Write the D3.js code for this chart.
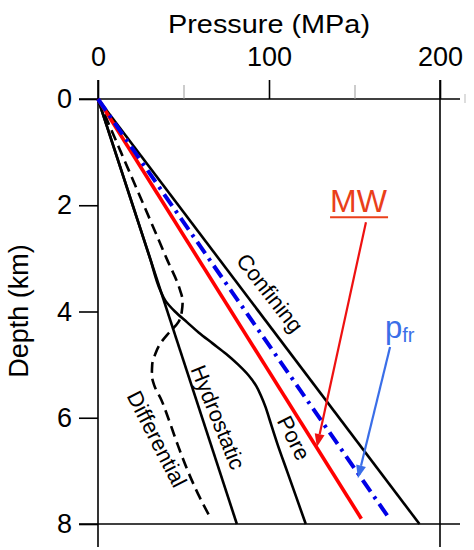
<!DOCTYPE html>
<html>
<head>
<meta charset="utf-8">
<script src="https://cdn.jsdelivr.net/npm/d3@7/dist/d3.min.js"></script>
<style>
  html, body { margin: 0; padding: 0; background: #fff; }
  svg { display: block; }
  text { font-family: "Liberation Sans", Arial, Helvetica, sans-serif; }
</style>
</head>
<body>
<svg id="chart" width="474" height="550"></svg>
<script>
// ---- data (pressure in MPa, depth in km) ----
const pressureTicks = [0, 100, 200];
const pressureMinorTicks = [50, 150];
const depthTicks = [0, 2, 4, 6, 8];

const confiningDepth = [0, 8];
const confiningP     = [0, 188];

const hydroDepth = [0, 8];
const hydroP     = [0, 81.2];

const mwDepth = [0, 7.9];
const mwP     = [0, 154];

const pfrDepth = [0, 7.88];
const pfrP     = [0, 170];

const poreDepth = [0, 1, 2, 3, 3.6, 3.8, 4.0, 4.2, 4.4, 4.6, 4.8, 5.0, 5.2, 5.4, 5.6, 5.8, 6.0, 6.5, 7.0, 7.5, 8.0];
const poreP     = [0, 10.15, 20.3, 30.45, 36.4, 39.5, 45, 52, 59, 67, 75, 82, 88, 92.5, 95.5, 98, 100, 105, 110.5, 116, 121.5];

const diffDepth = [0, 1, 2, 3, 3.6, 3.8, 4.0, 4.2, 4.4, 4.6, 4.8, 5.0, 5.2, 5.4, 5.66, 6.0, 6.5, 7.0, 7.5, 7.87];
const diffP     = [0, 13.4, 26.8, 40.1, 48, 49.5, 49, 47, 41.5, 36.5, 33.5, 31.7, 31.5, 33, 37, 41, 46.5, 52.5, 59.5, 65.5];

// label names and anchor points (data coords) with text angle
const curveLabels = ["Confining", "Hydrostatic", "Differential", "Pore"];
const labelP      = [100.6, 70.2, 34.5, 114.6];
const labelDepth  = [3.65, 5.99, 6.40, 6.38];
const labelAngle  = [52, 68, 63, 63];

// annotation arrows (data coords)
const mwArrowFrom  = [156.7, 2.32], mwArrowTo  = [128, 6.55];
const pfrArrowFrom = [170.8, 4.67], pfrArrowTo = [152, 7.14];
const mwTextAt  = [135.7, 2.13];
const pfrTextAt = [167.8, 4.5];

// ---- scales ----
const svg = d3.select("#chart");
const x = d3.scaleLinear().domain([0, 200]).range([98, 440]);
const y = d3.scaleLinear().domain([0, 8]).range([99, 524]);

const zip = (ds, ps) => ds.map((d, i) => [ps[i], d]);
const line = d3.line().x(d => x(d[0])).y(d => y(d[1]));
const curve = d3.line().x(d => x(d[0])).y(d => y(d[1])).curve(d3.curveMonotoneY);

// ---- frame / axes ----
const frame = svg.append("g").attr("stroke", "#000").attr("stroke-width", 1.6).attr("fill", "none");
frame.append("line").attr("x1", 79).attr("x2", 460).attr("y1", y(0)).attr("y2", y(0));
frame.append("line").attr("x1", 79).attr("x2", 460).attr("y1", y(8)).attr("y2", y(8));
frame.append("line").attr("x1", x(0)).attr("x2", x(0)).attr("y1", y(0) - 19).attr("y2", 547);
frame.append("line").attr("x1", x(200)).attr("x2", x(200)).attr("y1", y(0) - 19).attr("y2", 547);

const xAxis = d3.axisTop(x).tickValues(pressureTicks).tickSize(19).tickPadding(14).tickFormat(d3.format("d"));
const gx = svg.append("g").attr("transform", `translate(0,${y(0)})`).call(xAxis);
gx.select(".domain").remove();
gx.selectAll(".tick line").attr("stroke", "#000").attr("stroke-width", 1.6);
gx.selectAll(".tick text").attr("font-size", 27).attr("fill", "#000")
  .attr("font-family", "Liberation Sans, Arial, sans-serif");

const xMinor = d3.axisTop(x).tickValues(pressureMinorTicks).tickSize(14).tickFormat("");
const gxm = svg.append("g").attr("transform", `translate(0,${y(0)})`).call(xMinor);
gxm.select(".domain").remove();
gxm.selectAll(".tick line").attr("stroke", "#999").attr("stroke-width", 1);

svg.append("line").attr("x1", 465).attr("x2", 465).attr("y1", y(0) - 5).attr("y2", y(0) + 4)
  .attr("stroke", "#bbb").attr("stroke-width", 1);

const yAxis = d3.axisLeft(y).tickValues(depthTicks).tickSize(19).tickPadding(7).tickFormat(d3.format("d"));
const gy = svg.append("g").attr("transform", `translate(${x(0)},0)`).call(yAxis);
gy.select(".domain").remove();
gy.selectAll(".tick line").attr("stroke", "#000").attr("stroke-width", 1.6);
gy.selectAll(".tick text").attr("font-size", 27).attr("fill", "#000")
  .attr("font-family", "Liberation Sans, Arial, sans-serif");

svg.append("text").attr("x", 269).attr("y", 33).attr("text-anchor", "middle")
  .attr("font-size", 26).attr("textLength", 202).attr("lengthAdjust", "spacingAndGlyphs")
  .text("Pressure (MPa)");
svg.append("text").attr("transform", "translate(28,311) rotate(-90)").attr("text-anchor", "middle")
  .attr("font-size", 27).text("Depth (km)");

// ---- curves ----
const plot = svg.append("g").attr("fill", "none").attr("stroke-linecap", "butt");
plot.append("path").datum(zip(confiningDepth, confiningP)).attr("d", line)
  .attr("stroke", "#000").attr("stroke-width", 2.6);
plot.append("path").datum(zip(hydroDepth, hydroP)).attr("d", line)
  .attr("stroke", "#000").attr("stroke-width", 2.6);
plot.append("path").datum(zip(poreDepth, poreP)).attr("d", curve)
  .attr("stroke", "#000").attr("stroke-width", 2.6);
plot.append("path").datum(zip(diffDepth, diffP)).attr("d", curve)
  .attr("stroke", "#000").attr("stroke-width", 2.6).attr("stroke-dasharray", "11,6");
plot.append("path").datum(zip(mwDepth, mwP)).attr("d", line)
  .attr("stroke", "#ff0000").attr("stroke-width", 3.6);
plot.append("path").datum(zip(pfrDepth, pfrP)).attr("d", line)
  .attr("stroke", "#0000e6").attr("stroke-width", 4).attr("stroke-dasharray", "14,6,3,6");

// ---- curve labels ----
curveLabels.forEach((t, i) => {
  svg.append("text")
    .attr("transform", `translate(${x(labelP[i])},${y(labelDepth[i])}) rotate(${labelAngle[i]})`)
    .attr("text-anchor", "middle").attr("dy", "0.35em")
    .attr("font-size", 22).attr("fill", "#000").text(t);
});

// ---- arrows ----
function arrow(from, to, color, w, headLen, headW) {
  const x1 = x(from[0]), y1 = y(from[1]), x2 = x(to[0]), y2 = y(to[1]);
  const ang = Math.atan2(y2 - y1, x2 - x1);
  const bx = x2 - headLen * Math.cos(ang), by = y2 - headLen * Math.sin(ang);
  svg.append("line").attr("x1", x1).attr("y1", y1).attr("x2", bx).attr("y2", by)
    .attr("stroke", color).attr("stroke-width", w);
  const px = -Math.sin(ang) * headW / 2, py = Math.cos(ang) * headW / 2;
  svg.append("path")
    .attr("d", `M${x2},${y2}L${bx + px},${by + py}L${bx - px},${by - py}Z`)
    .attr("fill", color);
}
arrow(mwArrowFrom, mwArrowTo, "#ee1111", 2.2, 13, 10);
arrow(pfrArrowFrom, pfrArrowTo, "#3a6ee8", 2.2, 13, 10);

// ---- annotation texts ----
svg.append("text").attr("x", x(mwTextAt[0])).attr("y", y(mwTextAt[1]))
  .attr("font-size", 32).attr("fill", "#ea3f1a").text("MW");
svg.append("line").attr("x1", x(mwTextAt[0])).attr("x2", x(mwTextAt[0]) + 58)
  .attr("y1", y(mwTextAt[1]) + 5).attr("y2", y(mwTextAt[1]) + 5)
  .attr("stroke", "#ea3f1a").attr("stroke-width", 2);

const pt = svg.append("text").attr("x", x(pfrTextAt[0])).attr("y", y(pfrTextAt[1]))
  .attr("fill", "#3a6ee8");
pt.append("tspan").attr("font-size", 31).text("p");
pt.append("tspan").attr("font-size", 20).attr("dy", 4).text("fr");
</script>
</body>
</html>
